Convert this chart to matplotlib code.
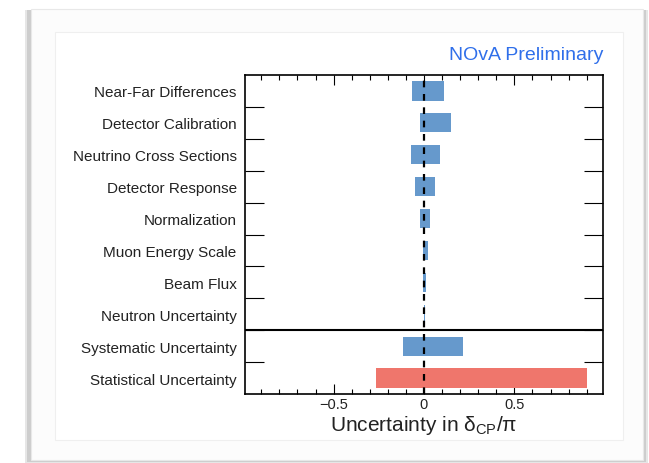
import matplotlib
matplotlib.use("Agg")
import matplotlib.pyplot as plt
from matplotlib.patches import Rectangle
from matplotlib.ticker import MultipleLocator, FixedLocator

plt.rcParams['font.family'] = ['Liberation Sans', 'DejaVu Sans']

# Systematic sources, top to bottom
sources = [
    "Near-Far Differences",
    "Detector Calibration",
    "Neutrino Cross Sections",
    "Detector Response",
    "Normalization",
    "Muon Energy Scale",
    "Beam Flux",
    "Neutron Uncertainty",
    "Systematic Uncertainty",
    "Statistical Uncertainty",
]
# Lower and upper shifts in delta_CP / pi
lower = [-0.066, -0.022, -0.072, -0.051, -0.022, -0.004, -0.003, -0.002, -0.114, -0.263]
upper = [0.110, 0.151, 0.090, 0.061, 0.035, 0.020, 0.010, 0.006, 0.214, 0.904]
kinds = ["syst"] * 9 + ["stat"]

colors = {"syst": "#6699cc", "stat": "#ef766c"}

W, H = 649, 464
fig = plt.figure(figsize=(W / 100, H / 100), dpi=100)
fig.patch.set_facecolor("white")

# card frame with soft shadow
def px_rect(x0, y0, x1, y1, **kw):
    return Rectangle((x0 / W, 1 - y1 / H), (x1 - x0) / W, (y1 - y0) / H,
                     transform=fig.transFigure, **kw)

fig.patches.append(px_rect(25, 11, 648, 464, facecolor="#e6e6e6", edgecolor="none", zorder=-5))
fig.patches.append(px_rect(27, 11, 646, 463, facecolor="#cdcdcd", edgecolor="none", zorder=-4))
fig.patches.append(px_rect(31, 10, 643, 461, facecolor="#fcfcfc", edgecolor="#e8e8e8", lw=0.8, zorder=-2))
fig.patches.append(px_rect(55, 33, 623, 441, facecolor="white", edgecolor="#efefef", lw=0.8, zorder=-1))

ax = fig.add_axes([245 / W, 1 - 395 / H, (603 - 245) / W, (395 - 76) / H])
ax.set_zorder(2)
ax.set_facecolor("white")

n = len(sources)
ypos = [n - 1 - i for i in range(n)]
for y, lo, hi, k in zip(ypos, lower, upper, kinds):
    ax.barh(y, hi - lo, left=lo, height=0.6, color=colors[k], edgecolor="none", zorder=2)

ax.axvline(0, color="black", ls=(0, (3, 3)), lw=1.6, zorder=3)
ax.axhline(1.5, color="black", lw=1.5, zorder=3)

ax.set_xlim(-0.99, 0.99)
ax.set_ylim(-0.5, n - 0.5)

ax.xaxis.set_major_locator(FixedLocator([-0.5, 0, 0.5]))
ax.xaxis.set_minor_locator(MultipleLocator(0.1))
ax.set_xticklabels(["\u22120.5", "0", "0.5"])
ax.tick_params(axis="x", which="major", direction="in", length=7, width=0.8,
               top=True, bottom=True, labelsize=10.5, pad=2.5, labelcolor="#222222")
ax.tick_params(axis="x", which="minor", direction="in", length=3.5, width=0.8,
               top=True, bottom=True)

ax.yaxis.set_major_locator(FixedLocator([i + 0.5 for i in range(n - 1)]))
ax.yaxis.set_minor_locator(FixedLocator(ypos))
ax.set_yticklabels([], minor=False)
ax.set_yticklabels(sources, minor=True)
ax.tick_params(axis="y", which="major", direction="in", length=14, width=0.8,
               left=True, right=True)
ax.tick_params(axis="y", which="minor", length=0, labelsize=11, pad=6,
               labelcolor="#222222")

for s in ax.spines.values():
    s.set_linewidth(1.2)

ax.set_xlabel(r"Uncertainty in $\mathregular{\delta_{CP}/\pi}$", fontsize=15,
              labelpad=1, color="#222222")

fig.text(603 / W, 1 - 55 / H, "NOvA Preliminary", color="#2f6fea",
         fontsize=14, ha="right", va="center", zorder=3)

fig.savefig("out.png", dpi=100)
